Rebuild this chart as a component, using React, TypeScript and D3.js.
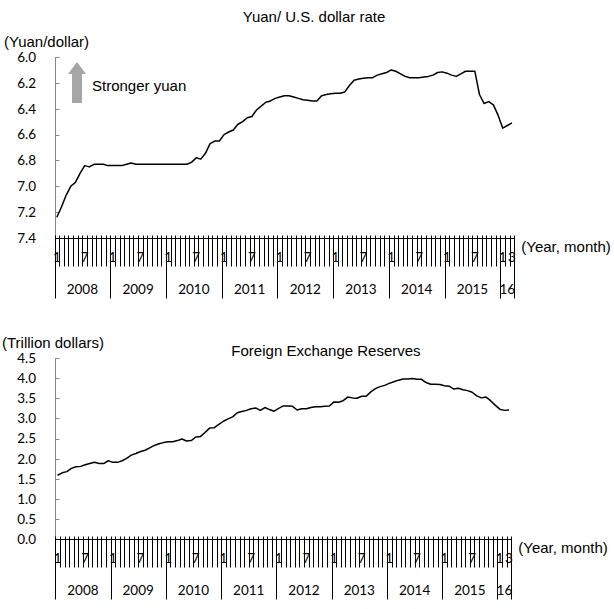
import React from "react";
import * as d3 from "d3";

// ---- Data ----
const yearLabels = ["2008", "2009", "2010", "2011", "2012", "2013", "2014", "2015", "16"];
const monthsPerYear = [12, 12, 12, 12, 12, 12, 12, 12, 3];
const monthTickLabels = ["1", "7"];
const lastYearMonthTickLabels = ["1", "3"];

const yuanTicks = [6.0, 6.2, 6.4, 6.6, 6.8, 7.0, 7.2, 7.4];
const reserveTicks = [0.0, 0.5, 1.0, 1.5, 2.0, 2.5, 3.0, 3.5, 4.0, 4.5];

// Yuan per U.S. dollar, monthly, Jan 2008 - Mar 2016
const yuanRate = [
  7.24, 7.16, 7.07, 7.0, 6.97, 6.9, 6.84, 6.85, 6.83, 6.83, 6.83, 6.84,
  6.84, 6.84, 6.84, 6.83, 6.82, 6.83, 6.83, 6.83, 6.83, 6.83, 6.83, 6.83,
  6.83, 6.83, 6.83, 6.83, 6.83, 6.815, 6.78, 6.79, 6.745, 6.67, 6.65, 6.65,
  6.6, 6.58, 6.565, 6.52, 6.5, 6.47, 6.46, 6.41, 6.38, 6.35, 6.34, 6.32,
  6.31, 6.3, 6.3, 6.31, 6.32, 6.33, 6.335, 6.34, 6.34, 6.3, 6.29, 6.285,
  6.28, 6.28, 6.27, 6.22, 6.18, 6.17, 6.165, 6.16, 6.16, 6.14, 6.13, 6.12,
  6.1, 6.11, 6.13, 6.15, 6.16, 6.16, 6.16, 6.155, 6.15, 6.14, 6.12, 6.115,
  6.125, 6.14, 6.15, 6.13, 6.11, 6.11, 6.11, 6.29, 6.36, 6.345, 6.37, 6.45,
  6.55, 6.53, 6.51,
];

// Foreign exchange reserves, trillion dollars, Jan 2008 - Mar 2016
const reserves = [
  1.59, 1.65, 1.68, 1.76, 1.8, 1.81, 1.85, 1.88, 1.91, 1.88, 1.88, 1.95,
  1.91, 1.91, 1.95, 2.01, 2.09, 2.13, 2.18, 2.21, 2.27, 2.33, 2.37, 2.4,
  2.42, 2.42, 2.45, 2.49, 2.44, 2.45, 2.54, 2.55, 2.65, 2.76, 2.77, 2.85,
  2.93, 2.99, 3.04, 3.14, 3.17, 3.2, 3.24, 3.26, 3.2, 3.27, 3.22, 3.18,
  3.25, 3.31, 3.31, 3.3, 3.21, 3.24, 3.24, 3.27, 3.29, 3.29, 3.3, 3.31,
  3.41, 3.4, 3.44, 3.53, 3.51, 3.5, 3.55, 3.55, 3.66, 3.74, 3.79, 3.82,
  3.87, 3.91, 3.95, 3.98, 3.98, 3.99, 3.97, 3.97, 3.89, 3.85, 3.85, 3.84,
  3.81, 3.8, 3.73, 3.75, 3.71, 3.69, 3.65, 3.56, 3.51, 3.53, 3.44, 3.33,
  3.23, 3.2, 3.21,
];

type Cat = { key: string; month: number; yearIdx: number };
const categories: Cat[] = [];
monthsPerYear.forEach((n, yi) => {
  for (let m = 1; m <= n; m++) categories.push({ key: `${yearLabels[yi]}-${m}`, month: m, yearIdx: yi });
});

const ARIAL = "'Liberation Sans', Arial, sans-serif";
const TICKFONT = "Lato, 'Open Sans', sans-serif";

type PanelProps = {
  values: number[];
  ticks: number[];
  domain: [number, number];
  range: [number, number];
  axisY: number;
  x0: number;
  x1: number;
  fmt: (v: number) => string;
};

const crisp = (v: number) => Math.round(v) + 0.5;

function Panel({ values, ticks, domain, range, axisY, x0, x1, fmt }: PanelProps) {
  const x = d3
    .scaleBand<string>()
    .domain(categories.map((c) => c.key))
    .range([x0, x1])
    .padding(0);
  const y = d3.scaleLinear().domain(domain).range(range);
  const bw = x.bandwidth();
  const line = d3
    .line<number>()
    .x((_, i) => (x(categories[i].key) as number) + bw / 2)
    .y((v) => y(v));

  const boundaries = d3.range(categories.length + 1).map((i) => x0 + i * bw);
  const yearStarts: number[] = [];
  let acc = 0;
  monthsPerYear.forEach((n) => {
    yearStarts.push(acc);
    acc += n;
  });
  yearStarts.push(acc);

  const lastYear = yearLabels.length - 1;
  const yAxisTop = Math.min(...ticks.map((t) => y(t)));
  const ax = crisp(axisY);

  return (
    <g>
      {/* y axis */}
      <line x1={crisp(x0)} x2={crisp(x0)} y1={yAxisTop} y2={ax} stroke="#888" strokeWidth={1} />
      {ticks.map((t) => (
        <g key={t}>
          <line x1={crisp(x0)} x2={crisp(x0) + 4} y1={crisp(y(t))} y2={crisp(y(t))} stroke="#888" strokeWidth={1} />
          <text x={36} y={y(t)} dy="0.36em" textAnchor="end" fontFamily={TICKFONT} fontSize={13.5} fill="#000">
            {fmt(t)}
          </text>
        </g>
      ))}
      {/* x axis */}
      <line x1={crisp(x0)} x2={crisp(x1)} y1={ax} y2={ax} stroke="#000" strokeWidth={1} />
      {boundaries.map((bx, i) => (
        <line key={i} x1={crisp(bx)} x2={crisp(bx)} y1={ax - 3} y2={ax + 28} stroke="#000" strokeWidth={1} />
      ))}
      {yearStarts.map((s, i) => (
        <line
          key={"y" + i}
          x1={crisp(x0 + s * bw)}
          x2={crisp(x0 + s * bw)}
          y1={ax}
          y2={ax + 60}
          stroke="#000"
          strokeWidth={1}
        />
      ))}
      {categories.map((c) => {
        const labels = c.yearIdx === lastYear ? lastYearMonthTickLabels : monthTickLabels;
        const lab = String(c.month);
        if (!labels.includes(lab)) return null;
        return (
          <text
            key={c.key}
            x={(x(c.key) as number) + bw / 2}
            y={axisY + 19}
            dy="0.36em"
            textAnchor="middle"
            fontFamily={TICKFONT}
            fontSize={13.5}
            fill="#000"
          >
            {lab}
          </text>
        );
      })}
      {yearLabels.map((yl, i) => (
        <text
          key={yl}
          x={x0 + ((yearStarts[i] + yearStarts[i + 1]) / 2) * bw}
          y={axisY + 51}
          dy="0.36em"
          textAnchor="middle"
          fontFamily={TICKFONT}
          fontSize={13.5}
          fill="#000"
        >
          {yl}
        </text>
      ))}
      <text x={x1 + 7} y={axisY + 14} fontFamily={ARIAL} fontSize={15} fill="#000">
        (Year, month)
      </text>
      {/* data line */}
      <path d={line(values) || ""} fill="none" stroke="#000" strokeWidth={1.5} strokeLinejoin="round" />
    </g>
  );
}

export default function App() {
  const arrowX = 77;
  return (
    <svg width={614} height={609} style={{ position: "absolute", left: 0, top: 0, background: "#fff" }}>
      <rect x={0} y={0} width={614} height={609} fill="#fff" />
      {/* Top chart */}
      <text x={314} y={22} textAnchor="middle" fontFamily={ARIAL} fontSize={15} fill="#000">
        Yuan/ U.S. dollar rate
      </text>
      <text x={4} y={47} fontFamily={ARIAL} fontSize={15} fill="#000">
        (Yuan/dollar)
      </text>
      <path
        d={`M${arrowX},62 L${arrowX + 9},74 L${arrowX + 5},74 L${arrowX + 5},103 L${arrowX - 5},103 L${arrowX - 5},74 L${arrowX - 9},74 Z`}
        fill="#a6a6a6"
      />
      <text x={92} y={91} fontFamily={ARIAL} fontSize={15} fill="#000">
        Stronger yuan
      </text>
      <Panel
        values={yuanRate}
        ticks={yuanTicks}
        domain={[6.0, 7.4]}
        range={[57, 238]}
        axisY={238}
        x0={54.5}
        x1={514.3}
        fmt={(v) => v.toFixed(1)}
      />
      {/* Bottom chart */}
      <text x={326} y={356} textAnchor="middle" fontFamily={ARIAL} fontSize={15} fill="#000">
        Foreign Exchange Reserves
      </text>
      <text x={2} y={347.5} fontFamily={ARIAL} fontSize={15} fill="#000">
        (Trillion dollars)
      </text>
      <Panel
        values={reserves}
        ticks={reserveTicks}
        domain={[0, 4.5]}
        range={[539.3, 358]}
        axisY={539.3}
        x0={55.3}
        x1={511.3}
        fmt={(v) => v.toFixed(1)}
      />
    </svg>
  );
}
